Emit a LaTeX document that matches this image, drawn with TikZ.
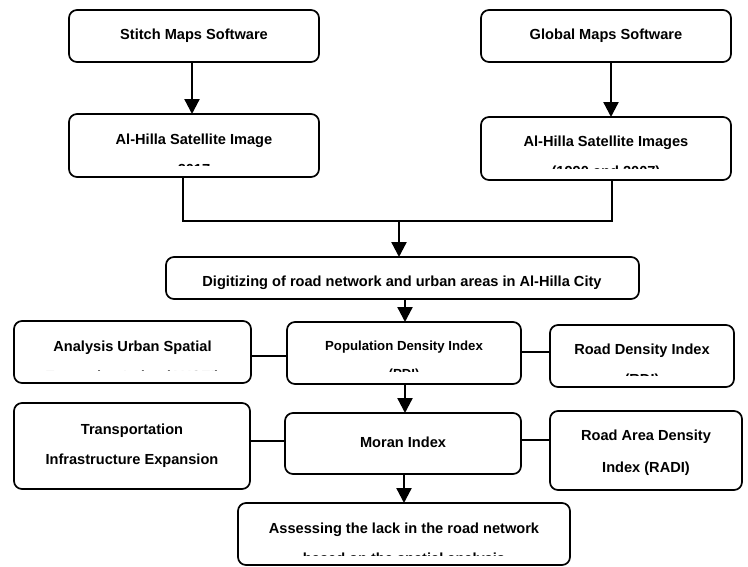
\documentclass[tikz,border=0pt]{standalone}
\usepackage{fontspec}
\setmainfont{Liberation Sans}
\usetikzlibrary{arrows.meta}
\newcommand\mkbox[5]{%
  \pgfmathsetmacro\bxw{#4-#2}\pgfmathsetmacro\bxh{#5-#3}%
  \node[box, minimum width=\bxw pt, minimum height=\bxh pt] (#1) at ({(#2+#4)/2},{(#3+#5)/2}) {};}
\newcommand\cliptext[6]{% name, x, baseline, clip corner 1, clip corner 2, text
  \begin{scope}\clip (#4) rectangle (#5);
  \node[txt, anchor=base] (#1) at (#2,#3) {#6};\end{scope}}
\begin{document}
\begin{tikzpicture}[x=1pt,y=-1pt,
  box/.style={draw, line width=1.7pt, rounded corners=8pt, inner sep=0pt, outer sep=0pt},
  txt/.style={inner sep=0pt, font=\bfseries\fontsize{14.6}{18}\selectfont},
  txts/.style={inner sep=0pt, font=\bfseries\fontsize{13.2}{16}\selectfont},
  ln/.style={line width=1.8pt},
  arr/.style={line width=2.3pt, -{Triangle[width=15pt,length=15pt]}}]
\useasboundingbox (0,0) rectangle (748,566);
% boxes
\mkbox{stitch}{69}{10}{319}{62}
\mkbox{img1}{69}{114}{319}{177}
\mkbox{global}{481}{10}{731}{62}
\mkbox{img2}{481}{117}{731}{180}
\mkbox{digit}{166}{257}{639}{299}
\mkbox{analysis}{14}{321}{251}{383}
\mkbox{pop}{287}{322}{521}{384}
\mkbox{rdi}{550}{325}{734}{387}
\mkbox{transport}{14}{403}{250}{489}
\mkbox{moran}{285}{413}{521}{474}
\mkbox{radi}{550}{411}{742}{490}
\mkbox{assess}{238}{503}{570}{565}
% texts
\node[txt, anchor=base] (stitchT) at (194,39.3) {Stitch Maps Software};
\node[txt, anchor=base] (img1T) at (194,144.3) {Al-Hilla Satellite Image};
\cliptext{img1U}{194}{174.3}{70,150}{318,165.3}{2017}
\node[txt, anchor=base] (globalT) at (606,39.3) {Global Maps Software};
\node[txt, anchor=base] (img2T) at (606,146.7) {Al-Hilla Satellite Images};
\cliptext{img2U}{606}{176.7}{482,150}{730,168.3}{(1990 and 2007)}
\node[txt, anchor=base] (digitT) at (402,286) {Digitizing of road network and urban areas in Al-Hilla City};
\node[txt, anchor=base] (analysisT) at (132.5,351) {Analysis Urban Spatial};
\cliptext{analysisU}{132.5}{381}{15,355}{250,370.8}{Expansion Index (AUSEI)}
\node[txts, anchor=base] (popT) at (404,350) {Population Density Index};
\begin{scope}\clip (288,355) rectangle (520,371.5);
\node[txts, anchor=base] (popU) at (404,378) {(PDI)};\end{scope}
\node[txt, anchor=base] (rdiT) at (642,354.7) {Road Density Index};
\cliptext{rdiU}{642}{384.7}{551,360}{733,375.3}{(RDI)}
\node[txt, anchor=base] (transportT) at (132,434.7) {Transportation};
\node[txt, anchor=base] (transportU) at (132,464.7) {Infrastructure Expansion};
\node[txt, anchor=base] (moranT) at (403,447) {Moran Index};
\node[txt, anchor=base] (radiT) at (646,440.3) {Road Area Density};
\node[txt, anchor=base] (radiU) at (646,472) {Index (RADI)};
\node[txt, anchor=base] (assessT) at (404,533.7) {Assessing the lack in the road network};
\cliptext{assessU}{404}{563.7}{239,540}{569,555.5}{based on the spatial analysis}
% connectors
\draw[arr] (stitch.south -| 192,0) -- (img1.north -| 192,0);
\draw[arr] (global.south -| 611,0) -- (img2.north -| 611,0);
\coordinate (j1) at (183,221);
\coordinate (j2) at (612,221);
\coordinate (j3) at (399,221);
\draw[ln] (img1.south -| j1) -- (j1) -- (j2) -- (img2.south -| j2);
\draw[arr] (j3) -- (digit.north -| j3);
\draw[arr] (digit.south -| 405,0) -- (pop.north -| 405,0);
\draw[arr] (pop.south -| 405,0) -- (moran.north -| 405,0);
\draw[arr] (moran.south -| 404,0) -- (assess.north -| 404,0);
\draw[ln] (analysis.east |- 0,356) -- (pop.west |- 0,356);
\draw[ln] (pop.east |- 0,352) -- (rdi.west |- 0,352);
\draw[ln] (transport.east |- 0,441) -- (moran.west |- 0,441);
\draw[ln] (moran.east |- 0,440) -- (radi.west |- 0,440);
\end{tikzpicture}
\end{document}
